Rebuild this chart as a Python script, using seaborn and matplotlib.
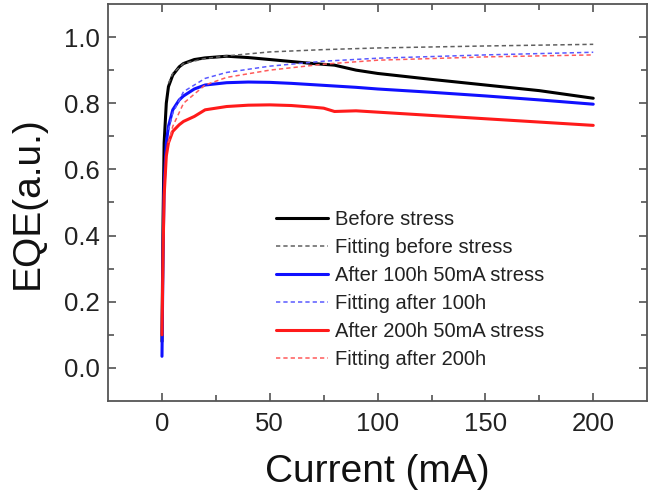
import numpy as np
import pandas as pd
import matplotlib
matplotlib.use("Agg")
import matplotlib.pyplot as plt
import seaborn as sns

# measured EQE
cur_before = [0, 0.5, 1, 2, 3, 5, 8, 10, 15, 20, 30, 40, 50, 60, 70, 80, 90, 100, 125, 150, 175, 200]
eqe_before = [0.08, 0.45, 0.68, 0.80, 0.85, 0.885, 0.91, 0.92, 0.932, 0.937, 0.942, 0.938, 0.932,
              0.926, 0.92, 0.915, 0.90, 0.89, 0.872, 0.855, 0.838, 0.815]
cur_100h = [0, 0.5, 1, 2, 3, 5, 8, 10, 15, 20, 30, 40, 50, 60, 70, 80, 90, 100, 125, 150, 175, 200]
eqe_100h = [0.035, 0.35, 0.55, 0.68, 0.73, 0.78, 0.81, 0.822, 0.843, 0.855, 0.862, 0.864, 0.863,
            0.86, 0.856, 0.852, 0.848, 0.843, 0.833, 0.822, 0.81, 0.797]
cur_200h = [0, 0.5, 1, 2, 3, 5, 8, 10, 15, 20, 30, 40, 50, 60, 70, 75, 80, 90, 100, 125, 150, 175, 200]
eqe_200h = [0.1, 0.35, 0.52, 0.64, 0.68, 0.715, 0.735, 0.745, 0.76, 0.78, 0.79, 0.794, 0.795,
            0.793, 0.788, 0.785, 0.775, 0.777, 0.773, 0.763, 0.753, 0.743, 0.733]

# fitted curves
cur_fit = [3, 5, 10, 20, 30, 50, 75, 100, 150, 200]
fit_before = [0.86, 0.89, 0.92, 0.935, 0.943, 0.955, 0.962, 0.967, 0.973, 0.978]
fit_100h = [0.72, 0.77, 0.835, 0.875, 0.893, 0.912, 0.927, 0.936, 0.946, 0.954]
fit_200h = [0.68, 0.73, 0.80, 0.855, 0.878, 0.90, 0.918, 0.93, 0.94, 0.946]

series = [
    ("Before stress", cur_before, eqe_before, "black", "-", 2.2),
    ("Fitting before stress", cur_fit, fit_before, "#606060", (0, (2.8, 2)), 1.1),
    ("After 100h 50mA stress", cur_100h, eqe_100h, "#1010ff", "-", 2.2),
    ("Fitting after 100h", cur_fit, fit_100h, "#5a5aff", (0, (2.8, 2)), 1.1),
    ("After 200h 50mA stress", cur_200h, eqe_200h, "#ff1a1a", "-", 2.2),
    ("Fitting after 200h", cur_fit, fit_200h, "#ff5a5a", (0, (2.8, 2)), 1.1),
]

sns.set_style("ticks")
plt.rcParams["font.family"] = ["Liberation Sans", "DejaVu Sans"]

fig = plt.figure(figsize=(6.59, 4.95), dpi=100)
ax = fig.add_axes([0.164, 0.19, 0.818, 0.802])

for name, x, y, color, ls, lw in series:
    df = pd.DataFrame({"Current": x, "EQE": y})
    sns.lineplot(data=df, x="Current", y="EQE", ax=ax, color=color, linestyle=ls,
                 linewidth=lw, label=name, estimator=None, sort=False)

ax.set_xlim(-25, 225)
ax.set_ylim(-0.1, 1.1)
ax.set_xticks([0, 50, 100, 150, 200])
ax.set_xticks([25, 75, 125, 175], minor=True)
ax.set_yticks([0.0, 0.2, 0.4, 0.6, 0.8, 1.0])
ax.set_yticks([0.1, 0.3, 0.5, 0.7, 0.9], minor=True)
ax.set_yticklabels(["0.0", "0.2", "0.4", "0.6", "0.8", "1.0"])
ax.tick_params(which="both", direction="in", top=True, right=True, labelsize=18.5,
               color="#444444", labelcolor="#222222")
ax.tick_params(axis="x", pad=8)
ax.tick_params(axis="y", pad=6)
ax.tick_params(which="major", length=6, width=1.1)
ax.tick_params(which="minor", length=4, width=1.1)
for sp in ax.spines.values():
    sp.set_color("#555555")
    sp.set_linewidth(1.3)

ax.set_xlabel("Current (mA)", fontsize=28, labelpad=13, color="#111111")
ax.set_ylabel("EQE(a.u.)", fontsize=28, labelpad=13, color="#111111")

ax.legend(loc="upper left", bbox_to_anchor=(0.312, 0.48), frameon=False, fontsize=14.5,
          handlelength=2.55, handletextpad=0.35, labelspacing=0.44, borderpad=0,
          borderaxespad=0, labelcolor="#222222")

fig.savefig("out.png", dpi=100)
